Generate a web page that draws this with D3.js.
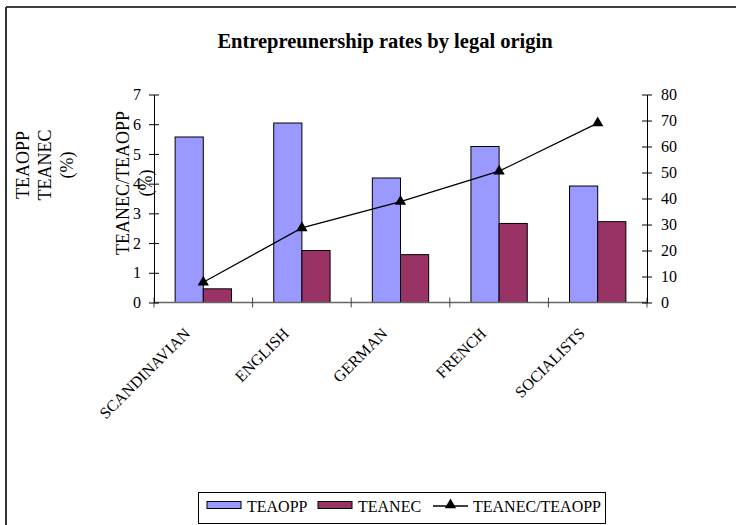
<!DOCTYPE html>
<html>
<head>
<script src="https://cdn.jsdelivr.net/npm/d3@7"></script>
<style>
  body { margin: 0; background: #fff; }
  svg text { font-family: 'Liberation Serif', 'Times New Roman', serif; fill: #000; }
</style>
</head>
<body>
<div id="chart"></div>
<script>
// data
var origins = ["SCANDINAVIAN", "ENGLISH", "GERMAN", "FRENCH", "SOCIALISTS"];
var teaopp = [5.57, 6.04, 4.19, 5.25, 3.92];
var teanec = [0.46, 1.75, 1.61, 2.66, 2.72];
var ratio = [7.8, 28.7, 38.8, 50.5, 69.0];
var leftTicks = [0, 1, 2, 3, 4, 5, 6, 7];
var rightTicks = [0, 10, 20, 30, 40, 50, 60, 70, 80];

var W = 736, H = 525;
var svg = d3.select("#chart").append("svg").attr("width", W).attr("height", H);

// frame (only top and left edges are visible)
svg.append("line").attr("x1", 6).attr("x2", W).attr("y1", 7).attr("y2", 7)
  .attr("stroke", "#000").attr("stroke-width", 1.5);
svg.append("line").attr("x1", 6).attr("x2", 6).attr("y1", 7).attr("y2", H)
  .attr("stroke", "#333").attr("stroke-width", 2);

svg.append("text").attr("x", 385).attr("y", 48).attr("text-anchor", "middle")
  .style("font-size", "20.5px").style("font-weight", "bold")
  .text("Entrepreunership rates by legal origin");

var x0 = 154, x1 = 647, yTop = 94.5, yBot = 302.5;
var x = d3.scaleBand().domain(origins).range([x0, x1]);
var bw = x.bandwidth() / 3.5;
var yL = d3.scaleLinear().domain([0, 7]).range([yBot, yTop]);
var yR = d3.scaleLinear().domain([0, 80]).range([yBot, yTop]);

// bars
var g = svg.append("g");
function bars(vals, color, offset) {
  g.selectAll(null).data(vals).enter().append("rect")
    .attr("x", function (d, i) { return x(origins[i]) + x.bandwidth() / 2 + offset * bw; })
    .attr("y", function (d) { return yL(d); })
    .attr("width", bw)
    .attr("height", function (d) { return yBot - yL(d); })
    .attr("fill", color).attr("stroke", "#000").attr("stroke-width", 1);
}
bars(teaopp, "#9999FF", -1);
bars(teanec, "#993366", 0);

// x axis
svg.append("line").attr("x1", x0).attr("x2", x1).attr("y1", yBot).attr("y2", yBot)
  .attr("stroke", "#666").attr("stroke-width", 1.5);
var catTicks = origins.map(function (d) { return x(d); }).concat([x1]);
svg.selectAll(null).data(catTicks).enter().append("line")
  .attr("x1", function (d) { return d; }).attr("x2", function (d) { return d; })
  .attr("y1", yBot - 5).attr("y2", yBot + 5)
  .attr("stroke", "#444");
svg.selectAll(null).data(origins).enter().append("text")
  .attr("transform", function (d) {
    return "translate(" + (x(d) + x.bandwidth() / 2 - 12) + "," + (yBot + 32) + ") rotate(-45)";
  })
  .attr("text-anchor", "end")
  .style("font-size", "16px")
  .text(function (d) { return d; });

// left axis
var axL = d3.axisLeft(yL).tickValues(leftTicks).tickSize(0).tickPadding(13).tickFormat(d3.format("d"));
var gl = svg.append("g").attr("transform", "translate(" + x0 + ",0)").call(axL);
gl.select(".domain").attr("stroke", "#000");
gl.selectAll(".tick").append("line").attr("x1", -5).attr("x2", 5).attr("stroke", "#000");
gl.selectAll("text").style("font-size", "16px").style("font-family", "'Liberation Serif', serif");

// right axis
var axR = d3.axisRight(yR).tickValues(rightTicks).tickSize(0).tickPadding(14).tickFormat(d3.format("d"));
var gr = svg.append("g").attr("transform", "translate(" + x1 + ",0)").call(axR);
gr.select(".domain").attr("stroke", "#000");
gr.selectAll(".tick").append("line").attr("x1", -5).attr("x2", 5).attr("stroke", "#000");
gr.selectAll("text").style("font-size", "16px").style("font-family", "'Liberation Serif', serif");

// ratio line
var line = d3.line()
  .x(function (d, i) { return x(origins[i]) + x.bandwidth() / 2; })
  .y(function (d) { return yR(d); });
svg.append("path").datum(ratio).attr("d", line)
  .attr("fill", "none").attr("stroke", "#000").attr("stroke-width", 1.3);
var tri = d3.symbol().type(d3.symbolTriangle).size(55);
svg.selectAll(null).data(ratio).enter().append("path")
  .attr("d", tri)
  .attr("transform", function (d, i) {
    return "translate(" + (x(origins[i]) + x.bandwidth() / 2) + "," + yR(d) + ")";
  })
  .attr("fill", "#000");

// axis titles
function vtitle(lines, cx, cy, dy) {
  var t = svg.append("text").attr("transform", "translate(" + cx + "," + cy + ") rotate(-90)")
    .attr("text-anchor", "middle").style("font-size", "18px");
  lines.forEach(function (s, i) {
    t.append("tspan").attr("x", 0).attr("dy", i === 0 ? 0 : dy).text(s);
  });
}
vtitle(["TEAOPP", "TEANEC", "(%)"], 29, 165, 22);
vtitle(["TEANEC/TEAOPP", "(%)"], 129, 183, 23);

// legend
var lg = svg.append("g");
lg.append("rect").attr("x", 198.5).attr("y", 492.5).attr("width", 407).attr("height", 31)
  .attr("fill", "#fff").attr("stroke", "#000");
var items = [
  { name: "TEAOPP", color: "#9999FF", type: "bar", x: 207 },
  { name: "TEANEC", color: "#993366", type: "bar", x: 318 },
  { name: "TEANEC/TEAOPP", color: "#000", type: "line", x: 433 }
];
items.forEach(function (it) {
  if (it.type === "bar") {
    lg.append("rect").attr("x", it.x).attr("y", 501.5).attr("width", 34).attr("height", 7)
      .attr("fill", it.color).attr("stroke", "#000");
  } else {
    lg.append("line").attr("x1", it.x).attr("x2", it.x + 35).attr("y1", 506).attr("y2", 506)
      .attr("stroke", "#000").attr("stroke-width", 1.3);
    lg.append("path").attr("d", tri).attr("transform", "translate(" + (it.x + 17.5) + ",505)")
      .attr("fill", "#000");
  }
  lg.append("text").attr("x", it.x + 40).attr("y", 512).style("font-size", "16px").text(it.name);
});
</script>
</body>
</html>
